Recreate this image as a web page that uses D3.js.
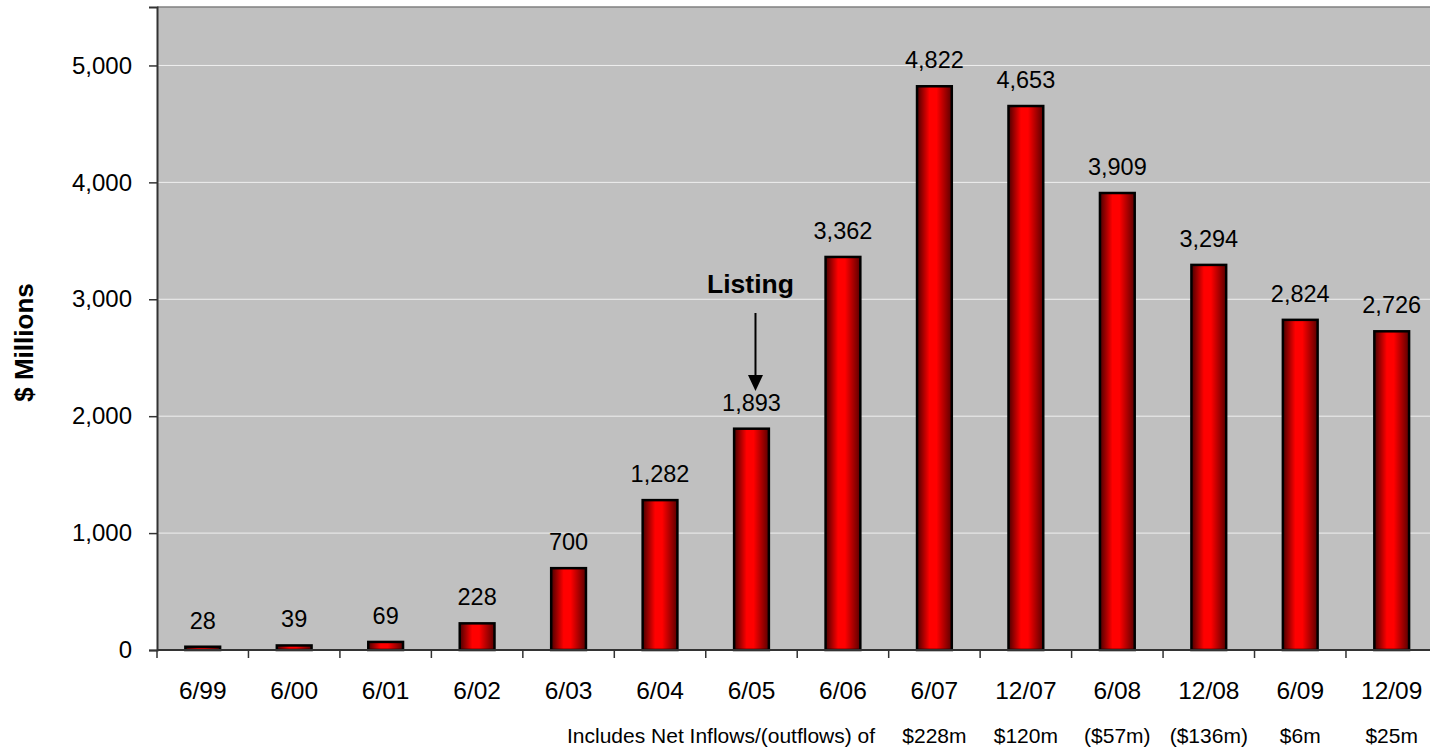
<!DOCTYPE html>
<html>
<head>
<meta charset="utf-8">
<script src="https://cdn.jsdelivr.net/npm/d3@7/dist/d3.min.js"></script>
<style>
  html, body { margin: 0; padding: 0; background: #ffffff; }
  svg { display: block; font-family: "Liberation Sans", Arial, sans-serif; }
</style>
</head>
<body>
<svg id="chart" width="1430" height="750"></svg>
<script>
// Period-end dates
const categories = ["6/99", "6/00", "6/01", "6/02", "6/03", "6/04", "6/05",
                    "6/06", "6/07", "12/07", "6/08", "12/08", "6/09", "12/09"];
// Funds under management, $ millions
const values = [28, 39, 69, 228, 700, 1282, 1893, 3362, 4822, 4653, 3909, 3294, 2824, 2726];
// Net inflows/(outflows) for the later periods
const flowPeriods = ["6/07", "12/07", "6/08", "12/08", "6/09", "12/09"];
const flowLabels = ["$228m", "$120m", "($57m)", "($136m)", "$6m", "$25m"];
const yTicks = [0, 1000, 2000, 3000, 4000, 5000];
const yMax = 5500;
const listingPeriod = "6/05";

const svg = d3.select("#chart");
const plotLeft = 157, plotTop = 7, plotBottom = 650;
const step = 91.46;
const plotRight = plotLeft + step * categories.length;

const x = d3.scaleBand()
  .domain(categories)
  .range([plotLeft, plotRight])
  .paddingInner(0.62)
  .paddingOuter(0.31);

const y = d3.scaleLinear().domain([0, yMax]).range([plotBottom, plotTop]);
const fmt = d3.format(",");

// Bar fill: dark edges, bright red core
const defs = svg.append("defs");
const grad = defs.append("linearGradient")
  .attr("id", "barFill").attr("x1", "0").attr("x2", "1").attr("y1", "0").attr("y2", "0");
[[0, "#4a0000"], [0.36, "#ff0000"], [0.56, "#ff0000"], [1, "#5a0000"]].forEach(([o, c]) =>
  grad.append("stop").attr("offset", o).attr("stop-color", c));

// Plot background
svg.append("rect")
  .attr("x", plotLeft).attr("y", plotTop)
  .attr("width", plotRight - plotLeft).attr("height", plotBottom - plotTop)
  .attr("fill", "#c0c0c0");

// Gridlines
svg.append("g").selectAll("line")
  .data(yTicks.filter(d => d > 0))
  .join("line")
  .attr("x1", plotLeft).attr("x2", plotRight)
  .attr("y1", d => y(d)).attr("y2", d => y(d))
  .attr("stroke", "#efefef").attr("stroke-width", 1);

// Top border
svg.append("line")
  .attr("x1", plotLeft).attr("x2", plotRight).attr("y1", plotTop).attr("y2", plotTop)
  .attr("stroke", "#808080").attr("stroke-width", 1.5);

// Bars
svg.append("g").selectAll("rect")
  .data(values)
  .join("rect")
  .attr("x", (d, i) => x(categories[i]))
  .attr("y", d => y(d))
  .attr("width", x.bandwidth())
  .attr("height", d => y(0) - y(d))
  .attr("fill", "url(#barFill)")
  .attr("stroke", "#000")
  .attr("stroke-width", 2.5);

// Value labels
svg.append("g").selectAll("text")
  .data(values)
  .join("text")
  .attr("x", (d, i) => x(categories[i]) + x.bandwidth() / 2)
  .attr("y", d => y(d) - 18)
  .attr("text-anchor", "middle")
  .attr("font-size", 23.5)
  .attr("fill", "#000")
  .text(d => fmt(d));

// Y axis
const yAxis = d3.axisLeft(y).tickValues(yTicks).tickFormat(fmt).tickSize(8).tickPadding(17);
const gy = svg.append("g").attr("transform", `translate(${plotLeft},0)`).call(yAxis);
gy.select(".domain").attr("stroke", "#333").attr("stroke-width", 2);
gy.selectAll(".tick line").attr("stroke", "#333").attr("stroke-width", 1.5);
gy.selectAll(".tick text").attr("font-size", 24).attr("fill", "#000")
  .attr("font-family", "'Liberation Sans', Arial, sans-serif");

// X axis baseline with ticks at category boundaries
svg.append("line")
  .attr("x1", plotLeft).attr("x2", plotRight).attr("y1", plotBottom).attr("y2", plotBottom)
  .attr("stroke", "#333").attr("stroke-width", 2);
svg.append("g").selectAll("line")
  .data(d3.range(categories.length + 1))
  .join("line")
  .attr("x1", i => plotLeft + i * x.step()).attr("x2", i => plotLeft + i * x.step())
  .attr("y1", plotBottom).attr("y2", plotBottom + 8)
  .attr("stroke", "#333").attr("stroke-width", 1.5);

// Category labels
svg.append("g").selectAll("text")
  .data(categories)
  .join("text")
  .attr("x", d => x(d) + x.bandwidth() / 2)
  .attr("y", 699)
  .attr("text-anchor", "middle")
  .attr("font-size", 24.5)
  .attr("fill", "#000")
  .text(d => d);

// Net flow row
svg.append("text")
  .attr("x", 567).attr("y", 743)
  .attr("font-size", 21)
  .attr("fill", "#000")
  .text("Includes Net Inflows/(outflows) of");
svg.append("g").selectAll("text")
  .data(flowLabels)
  .join("text")
  .attr("x", (d, i) => x(flowPeriods[i]) + x.bandwidth() / 2)
  .attr("y", 743)
  .attr("text-anchor", "middle")
  .attr("font-size", 21)
  .attr("fill", "#000")
  .text(d => d);

// Y axis title
svg.append("text")
  .attr("transform", `translate(33,${(plotTop + plotBottom) / 2 + 14}) rotate(-90)`)
  .attr("text-anchor", "middle")
  .attr("font-size", 26)
  .attr("font-weight", "bold")
  .attr("fill", "#000")
  .text("$ Millions");

// Listing annotation
const lx = x(listingPeriod) + x.bandwidth() / 2;
svg.append("text")
  .attr("x", lx - 1).attr("y", 293)
  .attr("text-anchor", "middle")
  .attr("font-size", 26.5)
  .attr("font-weight", "bold")
  .attr("fill", "#000")
  .text("Listing");
svg.append("line")
  .attr("x1", lx + 4).attr("x2", lx + 4)
  .attr("y1", 313).attr("y2", 378)
  .attr("stroke", "#000").attr("stroke-width", 2);
svg.append("path")
  .attr("d", d3.line()([[lx + 4 - 7.5, 375], [lx + 4 + 7.5, 375], [lx + 4, 391]]) + "Z")
  .attr("fill", "#000");
</script>
</body>
</html>
